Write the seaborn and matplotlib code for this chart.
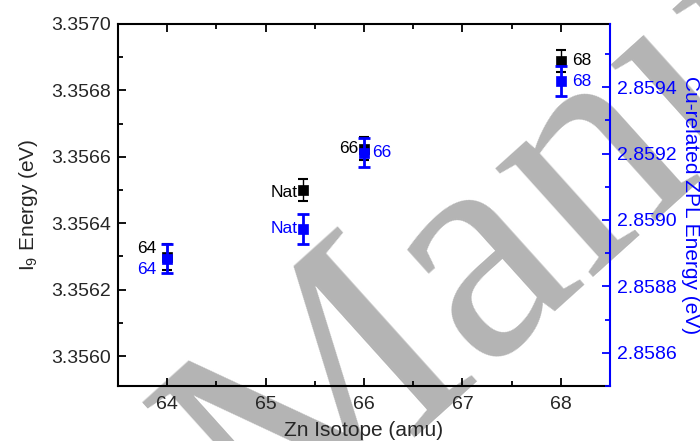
import matplotlib
matplotlib.use("Agg")
import matplotlib.pyplot as plt
from matplotlib.ticker import MultipleLocator, FormatStrFormatter
import seaborn as sns
import pandas as pd

# Isótopos de Zn y energías
isotopes = [64, 65.38, 66, 68]
point_labels = ["64", "Nat", "66", "68"]
i9_energy = [3.356298, 3.356500, 3.356625, 3.356889]
i9_err = [0.000039, 0.000032, 0.000035, 0.000033]
zpl_energy = [2.858883, 2.858973, 2.859203, 2.859418]
zpl_err = [0.000044, 0.000045, 0.000045, 0.000045]

BLUE = "#0000ff"

sns.set_theme(style="ticks")
plt.rcParams["font.family"] = ["Liberation Sans", "DejaVu Sans"]
plt.rcParams["mathtext.default"] = "regular"

df = pd.DataFrame({"iso": isotopes, "i9": i9_energy, "i9_err": i9_err,
                   "zpl": zpl_energy, "zpl_err": zpl_err, "lab": point_labels})

fig = plt.figure(figsize=(7, 4.41), dpi=100)
ax = fig.add_axes([0.1686, 0.1247, 0.7028, 0.8209])
ax2 = ax.twinx()
ax.patch.set_alpha(0)
ax2.patch.set_alpha(0)

# marca de agua detrás de la gráfica
fig.text(0.39, -0.262, "Manuscript", rotation=42, rotation_mode="anchor",
         ha="left", va="baseline", fontsize=228, color="#b4b4b4",
         family="Liberation Serif", zorder=-5)

# serie negra (I9) en el eje izquierdo
ax.errorbar(df["iso"], df["i9"], yerr=df["i9_err"], fmt="none",
            ecolor="black", elinewidth=1.0, capsize=3.5, capthick=1.5, zorder=2)
sns.scatterplot(data=df, x="iso", y="i9", marker="s", s=55, color="black",
                edgecolor="black", linewidth=0.5, ax=ax, zorder=3)

# serie azul (ZPL) en el eje derecho
ax2.errorbar(df["iso"], df["zpl"], yerr=df["zpl_err"], fmt="none",
             ecolor=BLUE, elinewidth=2, capsize=4, capthick=2, zorder=2)
sns.scatterplot(data=df, x="iso", y="zpl", marker="s", s=55, color=BLUE,
                edgecolor=BLUE, linewidth=0.5, ax=ax2, zorder=3)

# etiquetas de cada punto (offsets en puntos)
black_off = [(-8, 6), (-4, -2), (-4, 0), (8, 0)]
blue_off = [(-8, -8), (-4, 0), (6, 0), (8, 0)]
for x, y, lab, (dx, dy) in zip(isotopes, i9_energy, point_labels, black_off):
    ax.annotate(lab, (x, y), xytext=(dx, dy), textcoords="offset points",
                ha="right" if dx < 0 else "left", va="center",
                fontsize=12.5, color="black")
for x, y, lab, (dx, dy) in zip(isotopes, zpl_energy, point_labels, blue_off):
    ax2.annotate(lab, (x, y), xytext=(dx, dy), textcoords="offset points",
                 ha="right" if dx < 0 else "left", va="center",
                 fontsize=12.5, color=BLUE)

ax.set_xlim(63.5, 68.5)
ax.set_ylim(3.35591, 3.3570)
ax2.set_ylim(2.85850, 2.85959)

ax.xaxis.set_major_locator(MultipleLocator(1))
ax.xaxis.set_minor_locator(MultipleLocator(0.5))
ax.yaxis.set_major_locator(MultipleLocator(0.0002))
ax.yaxis.set_minor_locator(MultipleLocator(0.0001))
ax.yaxis.set_major_formatter(FormatStrFormatter("%.4f"))
ax2.yaxis.set_major_locator(MultipleLocator(0.0002))
ax2.yaxis.set_minor_locator(MultipleLocator(0.0001))
ax2.yaxis.set_major_formatter(FormatStrFormatter("%.4f"))

ax.tick_params(axis="x", which="both", direction="in", top=True, bottom=True,
               labelsize=14, pad=7, color="black")
ax.tick_params(axis="y", which="both", direction="in", left=True, right=False,
               labelsize=14, pad=5, color="black")
ax.tick_params(which="major", length=6, width=1.3)
ax.tick_params(which="minor", length=3.5, width=1.3)
ax2.tick_params(axis="y", which="both", direction="in", colors=BLUE,
                labelsize=14, pad=5)
ax2.tick_params(which="major", length=6, width=1.3)
ax2.tick_params(which="minor", length=3.5, width=1.3)

for sp in ["left", "bottom", "top"]:
    ax.spines[sp].set_linewidth(1.5)
    ax.spines[sp].set_color("black")
ax2.spines["right"].set_color(BLUE)
ax2.spines["right"].set_linewidth(1.5)
for sp in ["left", "bottom", "top"]:
    ax2.spines[sp].set_visible(False)
ax.spines["right"].set_visible(False)

ax.set_xlabel("Zn Isotope (amu)", fontsize=15, labelpad=6)
ax.set_ylabel("I$_{9}$ Energy (eV)", fontsize=15, labelpad=8)
ax2.set_ylabel("Cu-related ZPL Energy (eV)", fontsize=15, color=BLUE,
               rotation=270, labelpad=17)

fig.savefig("out.png", dpi=100)
